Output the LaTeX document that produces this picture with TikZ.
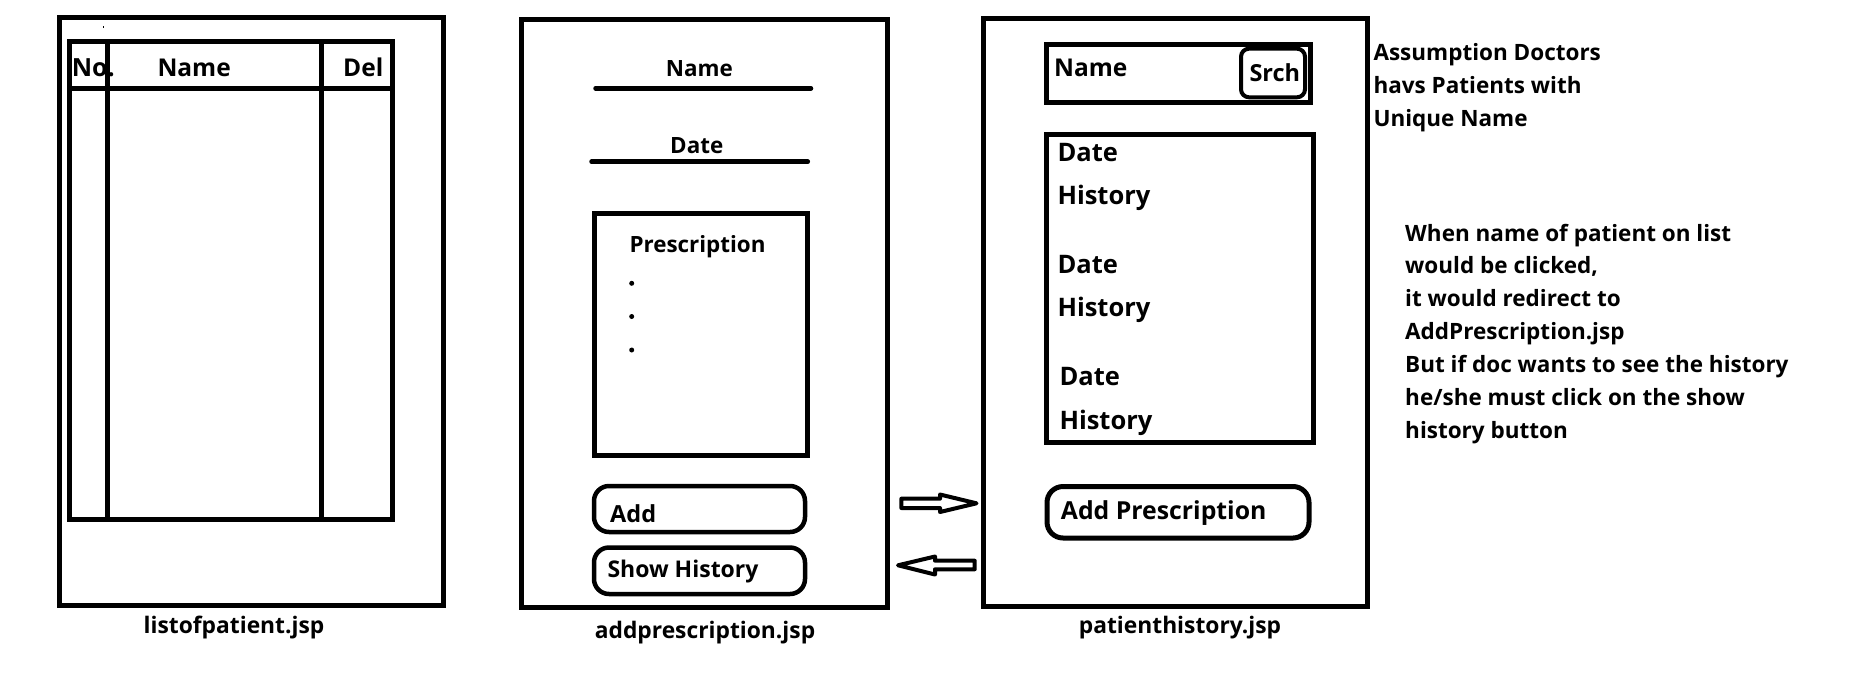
\documentclass[tikz,border=0pt]{standalone}
\usepackage{fontspec}
\setmainfont{Open Sans}
\newcommand\osz[1]{\fontsize{#1}{#1}\selectfont\bfseries}
\begin{document}
\begin{tikzpicture}[x=1pt,y=-1pt,
  frame/.style={draw, line width=5pt},
  btn/.style={draw, line width=4.5pt, rounded corners=15pt},
  uline/.style={line width=4.5pt, line cap=round},
  blockarrow/.style={draw, line width=4pt, line join=round},
  lbl/.style={inner sep=0pt, anchor=base west},
  pagecap/.style={inner sep=0pt, anchor=base, font=\osz{22.8}},
  note/.style={inner sep=0pt, anchor=base west, font=\osz{22.5}}]
\useasboundingbox (0,0) rectangle (1870,694);
\fill[white] (0,0) rectangle (1870,694);

% ---------- listofpatient.jsp ----------
\draw[frame] (59,17.5) rectangle (443,605);
\fill (102.5,26) rectangle (104,27.5);
\draw[frame] (69.7,41.3) rectangle (392,519);
\draw[frame] (107.5,41.3) -- (107.5,519);
\draw[frame] (321,41.3) -- (321,519);
\draw[frame] (69.7,88) -- (392,88);
\node[lbl, font=\osz{25}] (hno) at (71.7,76) {No.};
\node[lbl, font=\osz{24.5}] (hname) at (157.3,76) {Name};
\node[lbl, font=\osz{24.5}] (hdel) at (343,76) {Del};
\node[pagecap] (c1) at (234,633.3) {listofpatient.jsp};

% ---------- addprescription.jsp ----------
\draw[frame] (521,19) rectangle (887.5,607);
\node[lbl, font=\osz{22.4}] (aname) at (665.7,76) {Name};
\draw[uline] (595.5,88.3) -- (811,88.3);
\node[lbl, font=\osz{22.4}] (adate) at (670,153.3) {Date};
\draw[uline] (591.5,161.7) -- (807.8,161.7);
\draw[frame] (594.8,213.5) rectangle (807.5,455);
\node[lbl, font=\osz{22.4}] (apres) at (629.3,252.7) {Prescription};
\fill (631.7,283.3) circle (2.5);
\fill (631.7,316.5) circle (2.5);
\fill (631.7,350) circle (2.5);
\draw[btn] (594,486) rectangle (805,532);
\node[lbl, font=\osz{23.5}] (badd) at (610,522.7) {Add};
\draw[btn] (594,547.5) rectangle (805,594);
\node[lbl, font=\osz{23}] (bshow) at (607.3,577.3) {Show History};
\node[pagecap] (c2) at (705,638.3) {addprescription.jsp};

% ---------- arrows ----------
\draw[blockarrow] (901.3,498.7) -- (940,498.7) -- (940,494.5) -- (976.5,503.3)
  -- (940,512) -- (940,508) -- (901.3,508) -- cycle;
\draw[blockarrow] (974.7,560.7) -- (935,560.7) -- (935,556.5) -- (898,565.3)
  -- (935,574.5) -- (935,569.3) -- (974.7,569.3) -- cycle;

% ---------- patienthistory.jsp ----------
\draw[frame] (983.5,18.3) rectangle (1367.5,606.5);
\draw[frame] (1046,44) rectangle (1310,102.5);
\node[lbl, font=\osz{24.5}] (pname) at (1054,76.7) {Name};
\draw[line width=4pt, rounded corners=8pt] (1241,48.7) rectangle (1305,97.3);
\node[lbl, font=\osz{23.5}] (psrch) at (1249.3,81.7) {Srch};
\draw[frame] (1046,134) rectangle (1313,442.5);
\node[lbl, font=\osz{25.5}] (d1) at (1057.3,161.7) {Date};
\node[lbl, font=\osz{25.5}] (h1) at (1057.3,204) {History};
\node[lbl, font=\osz{25.5}] (d2) at (1057.3,273.3) {Date};
\node[lbl, font=\osz{25.5}] (h2) at (1057.3,316) {History};
\node[lbl, font=\osz{25.5}] (d3) at (1059.3,385) {Date};
\node[lbl, font=\osz{25.5}] (h3) at (1059.3,429) {History};
\draw[line width=5pt, rounded corners=16pt] (1047,486.5) rectangle (1309,538);
\node[lbl, font=\osz{24.8}] (baddp) at (1060.7,519.3) {Add Prescription};
\node[pagecap] (c3) at (1180,633.3) {patienthistory.jsp};

% ---------- notes ----------
\node[note] (n1) at (1373.3,60.7) {Assumption Doctors};
\node[note] (n2) at (1373.3,93.3) {havs Patients with};
\node[note] (n3) at (1373.3,126.7) {Unique Name};
\node[note] (m1) at (1405,241) {When name of patient on list};
\node[note] (m2) at (1405,273.3) {would be clicked,};
\node[note] (m3) at (1405,306.7) {it would redirect to};
\node[note] (m4) at (1405,339) {AddPrescription.jsp};
\node[note] (m5) at (1405,372.3) {But if doc wants to see the history};
\node[note] (m6) at (1405,405.7) {he/she must click on the show};
\node[note] (m7) at (1405,438.3) {history button};
\end{tikzpicture}
\end{document}
